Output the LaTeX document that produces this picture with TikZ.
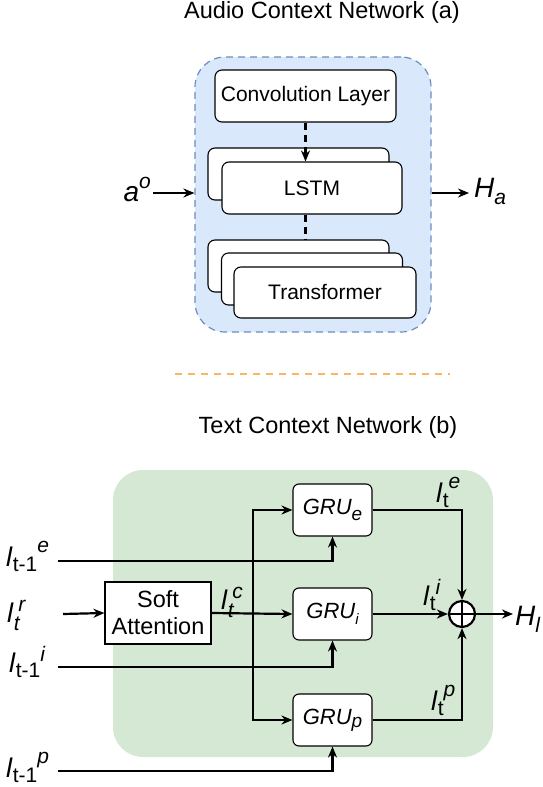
\documentclass[tikz,border=0pt]{standalone}
\usepackage{fontspec}
\setmainfont{Liberation Sans}
\usetikzlibrary{arrows.meta}

\definecolor{audiofill}{HTML}{DAE8FC}
\definecolor{audioline}{HTML}{6C8EBF}
\definecolor{textfill}{HTML}{D5E8D4}
\definecolor{sepline}{HTML}{FFB366}

\newcommand{\sizeof}[1]{\fontsize{#1}{#1}\selectfont}
% l with subscript #1 and superscript #2 raised by #3
\newcommand{\lab}[3]{\textit{l}\raisebox{-0.2em}{\sizeof{21}#1}\raisebox{#3}{\sizeof{21}\textit{#2}}}
\newcommand{\lstack}[1]{\textit{l}\raisebox{-0.3em}{\sizeof{21}\textit{t}}\kern-2pt\raisebox{0.4em}{\sizeof{21}\textit{#1}}}

\begin{document}
\begin{tikzpicture}[x=1pt,y=-1pt,
  box/.style={draw,line width=1.1pt,rounded corners=7pt,fill=white,inner sep=0pt,
    minimum width=181pt,minimum height=52pt,font=\sizeof{21}},
  gru/.style={draw,line width=1.1pt,rounded corners=6pt,fill=white,inner sep=0pt,
    minimum width=79pt,minimum height=52pt,font=\sizeof{22}\itshape},
  conn/.style={line width=2.2pt},
  arr/.style={conn,-{Stealth[length=11pt,width=9pt]}},
  lbl/.style={inner sep=0pt,font=\sizeof{27}},
  title/.style={inner sep=0pt,font=\sizeof{23.5}}]
\useasboundingbox (0,0) rectangle (543,787);

\node[title,anchor=base] (atitle) at (322,18) {Audio Context Network (a)};
\node[draw=audioline,fill=audiofill,line width=1.2pt,dash pattern=on 7pt off 5pt,
  rounded corners=30pt,minimum width=236pt,minimum height=275pt] (audio) at (313,194.5) {};
\node[box] (conv) at (305.5,96) {Convolution Layer};
\node[box] (lstmb) at (298.5,174) {};
\node[box,minimum width=180pt] (lstm) at (312,188) {LSTM};
\node[box] (tfc) at (298.5,266) {};
\node[box] (tfb) at (312,279) {};
\node[box,minimum width=182pt,minimum height=51pt] (tf) at (325,292.5) {Transformer};
\draw[arr,dash pattern=on 7pt off 5pt] (conv.south) -- (conv.south |- lstm.north);
\draw[conn,dash pattern=on 7pt off 5pt] (lstm.south -| conv.south) -- (tfc.north -| conv.south);

\coordinate (ain) at (153,193);
\coordinate (aout) at (469,193);
\node[lbl,anchor=base east,font=\sizeof{28}] (ao) at (151,201) {\textit{a}\raisebox{0.45em}{\sizeof{21}\textit{o}}};
\draw[arr] (ain) -- (ain -| audio.west);
\draw[arr] (aout -| audio.east) -- (aout);
\node[lbl,anchor=base west,font=\sizeof{28}] (ha) at (474,197) {\textit{H}\raisebox{-0.27em}{\sizeof{21}\textit{a}}};

\draw[sepline,line width=2pt,dash pattern=on 7pt off 6pt] (175,374) -- (450,374);

\node[title,anchor=base] (ttitle) at (328,433) {Text Context Network (b)};
\node[fill=textfill,rounded corners=30pt,minimum width=380pt,minimum height=287pt] (textnet) at (303,613.5) {};

\node[gru] (grue) at (332.5,510) {GRU\raisebox{-0.3em}{\sizeof{19}e}};
\node[gru] (grui) at (332.5,614) {GRU\raisebox{-0.3em}{\sizeof{15}i}};
\node[gru] (grup) at (332.5,720) {GRU\raisebox{-0.15em}{\sizeof{19}p}};
\node[draw,line width=1.1pt,fill=white,minimum width=106pt,minimum height=62pt,inner sep=0pt,
  align=center,font=\fontsize{23.5}{27}\selectfont] (sa) at (158,613) {Soft\\Attention};
\node[draw,circle,line width=2.2pt,fill=white,minimum size=26pt,inner sep=0pt] (sum) at (462,614) {};
\draw[conn] (sum.north) -- (sum.south) (sum.west) -- (sum.east);

\coordinate (bus) at (253,614);
\coordinate (ine) at (58,561);
\coordinate (ini) at (58,667);
\coordinate (inp) at (58,771);
\coordinate (inr) at (63,614);
\coordinate (hout) at (513,614);

\draw[arr] (inr) -- (sa.west);
\draw[arr] (sa.east) -- (grui.west);
\draw[arr] (bus) |- (grue.west);
\draw[arr] (bus) |- (grup.west);
\draw[arr] (ine) -| (grue.south);
\draw[arr] (ini) -| (grui.south);
\draw[arr] (inp) -| (grup.south);
\draw[arr] (grue.east) -| (sum.north);
\draw[arr] (grui.east) -- (sum.west);
\draw[arr] (grup.east) -| (sum.south);
\draw[arr] (sum.east) -- (hout);

\node[lbl,anchor=base west] (le) at (6,566) {\lab{t-1}{e}{0.5em}};
\node[lbl,anchor=base west] (lr) at (7,622) {\lstack{r}};
\node[lbl,anchor=base west] (li) at (9,672) {\lab{t-1}{i}{0.4em}};
\node[lbl,anchor=base west] (lp) at (6,777) {\lab{t-1}{p}{0.5em}};
\node[lbl,anchor=base west] (lc) at (221,609) {\lstack{c}};
\node[lbl,anchor=base west] (lte) at (436,502) {\lab{t}{e}{0.5em}};
\node[lbl,anchor=base west] (lti) at (423,605) {\lab{t}{i}{0.4em}};
\node[lbl,anchor=base west] (ltp) at (431,710) {\lab{t}{p}{0.5em}};
\node[lbl,anchor=base west,font=\sizeof{28}] (hl) at (515,625) {\textit{H}\raisebox{-0.27em}{\sizeof{21}\textit{l}}};
\end{tikzpicture}
\end{document}
